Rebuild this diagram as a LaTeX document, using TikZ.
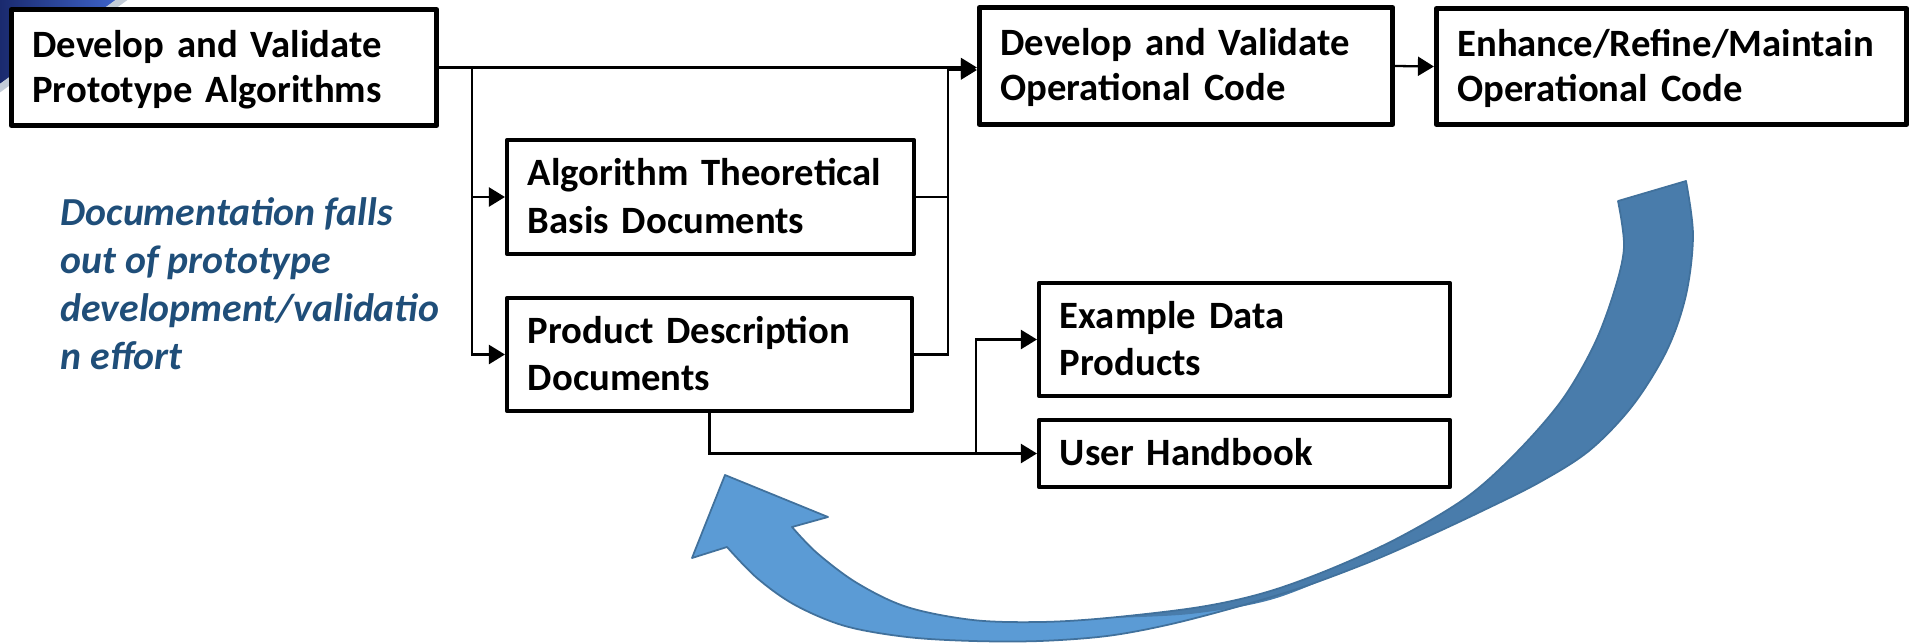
\documentclass[tikz,border=0pt]{standalone}
\usepackage{fontspec}
\setmainfont{Carlito}
\usetikzlibrary{arrows.meta}
\definecolor{notecol}{HTML}{1F4E79}
\definecolor{bandlight}{HTML}{5B9BD5}
\definecolor{banddark}{HTML}{497CAB}
\definecolor{bandedge}{HTML}{41719C}
\definecolor{framegray}{HTML}{C3CCD8}
\definecolor{globenavy}{HTML}{1A2A6E}
\definecolor{globeblue}{HTML}{3D62C8}

\begin{document}
\begin{tikzpicture}[x=0.01cm, y=-0.01cm,
  % text height = cap height, text depth = one line: the capitals sit centred in the box
  mainbox/.style={draw, fill=white, line width=1.4pt, line join=round,
    inner xsep=0.21cm, inner ysep=0pt, align=left,
    text height=7pt, text depth=12.8pt,
    font=\bfseries\fontsize{11pt}{12.8pt}\selectfont},
  docbox/.style={draw, fill=white, line width=1.1pt, line join=round,
    inner xsep=0.21cm, inner ysep=0pt, align=left,
    text height=7pt, text depth=13.5pt,
    font=\bfseries\fontsize{11pt}{13.5pt}\selectfont},
  oneline/.style={text depth=0pt},
  link/.style={line width=0.65pt},
  arr/.style={link, -{Triangle[length=0.16cm,width=0.19cm]}},
]
\useasboundingbox (0,0) rectangle (1911,642);

% corner of a framed satellite picture, mostly hidden behind the first box
\shade[left color=globenavy, right color=globeblue] (0,0) -- (116,0) -- (0,84) -- cycle;
\draw[framegray, line width=0.07cm] (127,-4) -- (-4,91);

% curved feedback arrow: light front band with arrow head
\fill[bandlight]
  plot[smooth, tension=0.55] coordinates {(1686,181) (1693,235) (1686,295) (1667,350) (1633,405) (1590,450) (1540,482) (1480,512) (1420,540) (1367,563) (1300,588) (1233,608) (1167,625) (1107,636) (1040,641) (973,641) (907,637) (845,626) (795,605) (757,578) (727,547)}
  -- (692,558) -- (725,475) -- (828,517) -- (792,527)
  -- plot[smooth, tension=0.55] coordinates {(792,527) (817,553) (857,583) (907,607) (973,620) (1040,622) (1107,618) (1200,607) (1267,592) (1333,568) (1400,537) (1467,497) (1517,452) (1562,400) (1594,345) (1614,292) (1624,247) (1618,201)}
  -- cycle;
% darker back face of the band
\fill[banddark]
  plot[smooth, tension=0.55] coordinates {(1618,201) (1624,247) (1614,292) (1594,345) (1562,400) (1517,452) (1467,497) (1400,537) (1333,568) (1267,592) (1200,607) (1107,618)}
  -- plot[smooth, tension=0.55] coordinates {(1107,618) (1190,614) (1270,600) (1345,571) (1420,540)}
  -- plot[smooth, tension=0.55] coordinates {(1420,540) (1480,512) (1540,482) (1590,450) (1633,405) (1667,350) (1686,295) (1693,235) (1686,181)}
  -- cycle;
% outline of the whole band
\draw[bandedge, line width=0.5pt, line join=round]
  plot[smooth, tension=0.55] coordinates {(1686,181) (1693,235) (1686,295) (1667,350) (1633,405) (1590,450) (1540,482) (1480,512) (1420,540) (1367,563) (1300,588) (1233,608) (1167,625) (1107,636) (1040,641) (973,641) (907,637) (845,626) (795,605) (757,578) (727,547)}
  -- (692,558) -- (725,475) -- (828,517) -- (792,527)
  -- plot[smooth, tension=0.55] coordinates {(792,527) (817,553) (857,583) (907,607) (973,620) (1040,622) (1107,618) (1200,607) (1267,592) (1333,568) (1400,537) (1467,497) (1517,452) (1562,400) (1594,345) (1614,292) (1624,247) (1618,201)}
  -- cycle;

% process boxes
\node[mainbox, text width=3.83cm, minimum height=1.16cm] (proto) at (224,67.5)
  {Develop and Validate\\Prototype Algorithms};
\node[mainbox, text width=3.71cm, minimum height=1.17cm] (opcode) at (1186,66)
  {Develop and Validate\\Operational Code};
\node[mainbox, text width=4.28cm, minimum height=1.16cm] (maint) at (1671.5,66.5)
  {\mbox{Enhance/Refine/Maintain}\\Operational Code};
\node[docbox, text width=3.65cm, minimum height=1.14cm] (atbd) at (710.5,197)
  {Algorithm Theoretical\\Basis Documents};
\node[docbox, text width=3.63cm, minimum height=1.13cm] (pdd) at (709.5,354.5)
  {Product Description\\Documents};
\node[docbox, text width=3.69cm, minimum height=1.13cm] (example) at (1244.5,339.5)
  {Example Data\\Products};
\node[docbox, oneline, text width=3.69cm, minimum height=0.67cm] (handbook) at (1244.5,453.5)
  {User Handbook};

% side note (anchored on the baseline of its last line)
\node[anchor=base west, align=left, inner sep=0pt, text=notecol,
  font=\bfseries\itshape\fontsize{11.3pt}{13.6pt}\selectfont] (note) at (60,369)
  {Documentation falls\\out of prototype\\development/validatio\\n effort};

% connectors
\coordinate (fork) at (472,67.5);
\coordinate (merge) at (948,70);
\coordinate (split) at (976,453.5);
\draw[arr] (proto.east) -- (proto.east -| opcode.west);
\draw[arr] (fork) |- (atbd.west);
\draw[arr] (fork) |- (pdd.west);
\draw[link] (atbd.east) -- (atbd.east -| merge);
\draw[arr] (pdd.east) -| (merge) -- (merge -| opcode.west);
\draw[arr] (opcode.east) -- (maint.west);
\draw[arr] (pdd.south) |- (handbook.west);
\draw[arr] (split) |- (example.west);
\end{tikzpicture}
\end{document}
